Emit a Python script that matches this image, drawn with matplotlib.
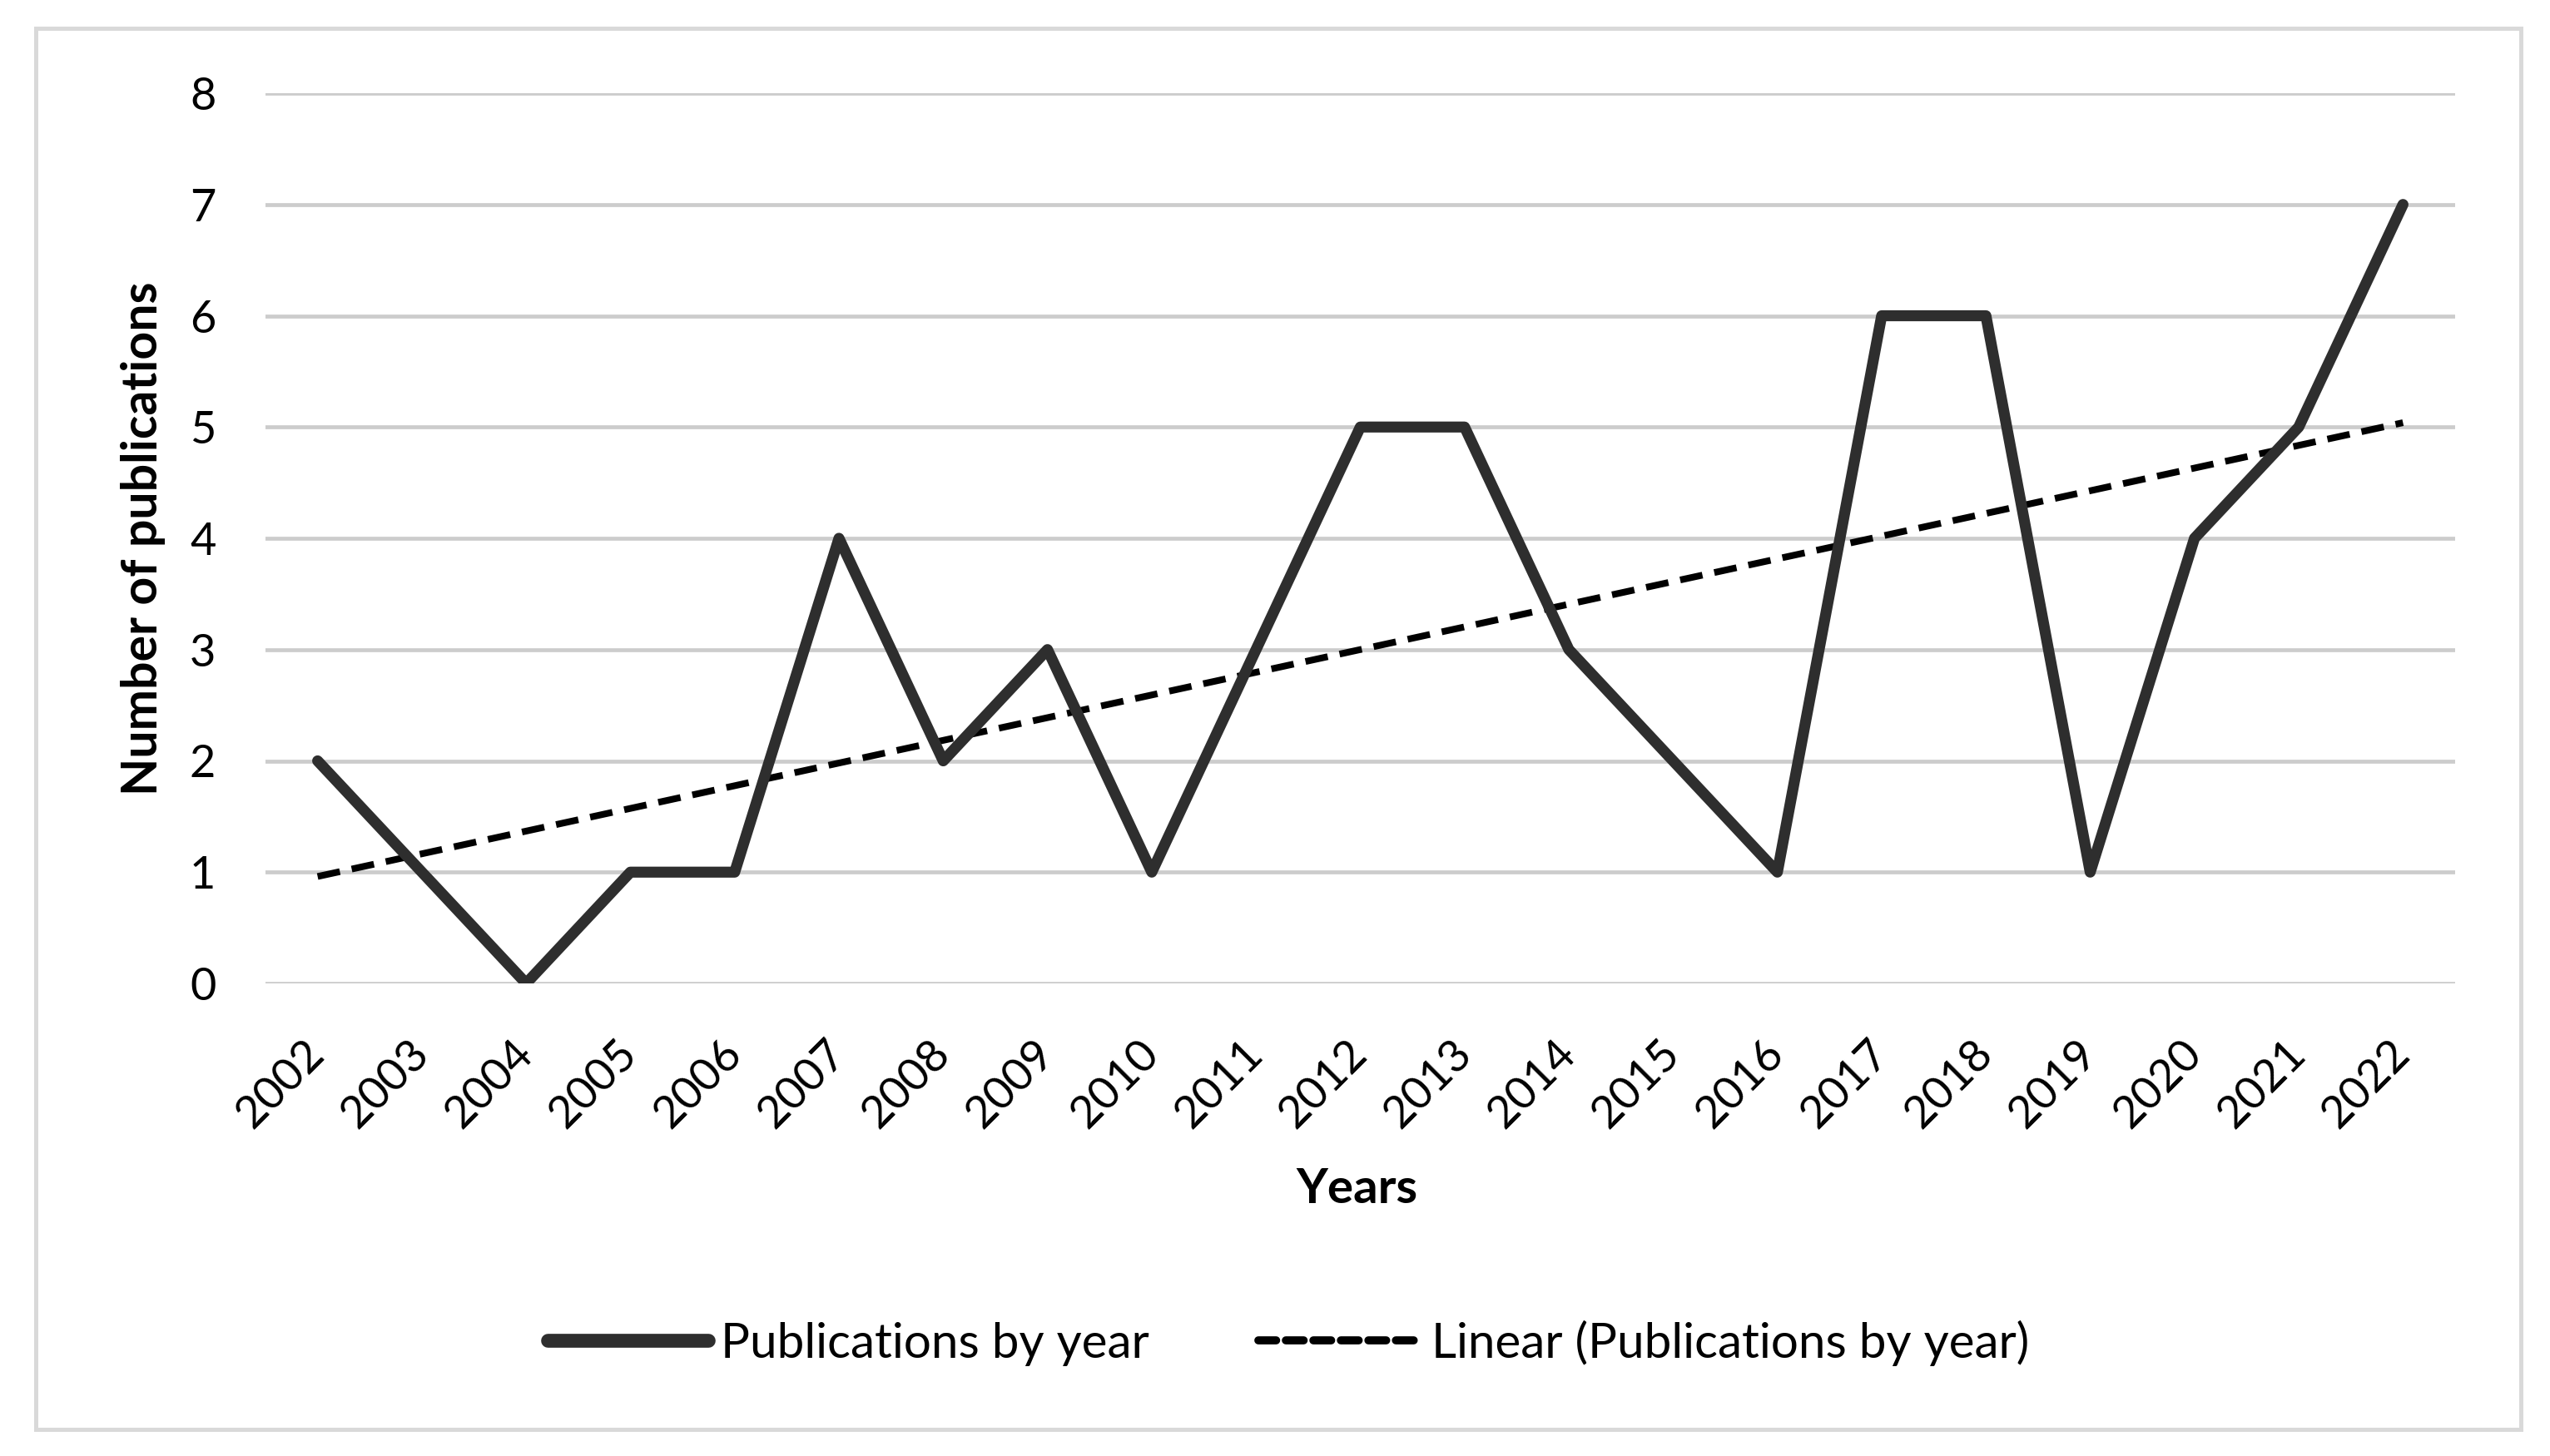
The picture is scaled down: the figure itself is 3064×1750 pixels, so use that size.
import numpy as np
import matplotlib
matplotlib.use("Agg")
import matplotlib.pyplot as plt
from matplotlib.lines import Line2D
from matplotlib.patches import Rectangle

# ---- data ----
years = ["2002", "2003", "2004", "2005", "2006", "2007", "2008", "2009", "2010", "2011",
         "2012", "2013", "2014", "2015", "2016", "2017", "2018", "2019", "2020", "2021", "2022"]
publications = [2, 1, 0, 1, 1, 4, 2, 3, 1, 3, 5, 5, 3, 2, 1, 6, 6, 1, 4, 5, 7]
y_ticks = [0, 1, 2, 3, 4, 5, 6, 7, 8]
series_label = "Publications by year"
trend_label = "Linear (Publications by year)"
x_title = "Years"
y_title = "Number of publications"

plt.rcParams['font.family'] = ['Lato', 'DejaVu Sans']

W, H = 3064, 1750
fig = plt.figure(figsize=(W / 100, H / 100), dpi=100)
fig.patch.set_facecolor("white")

# outer chart border
fig.patches.append(Rectangle((43 / W, 1 - 1718 / H), (3029 - 43) / W, (1718 - 34) / H,
                             transform=fig.transFigure, fill=False,
                             edgecolor="#d9d9d9", linewidth=3.6, zorder=0))

ax = fig.add_axes([319 / W, 1 - 1182 / H, (2950 - 319) / W, (1182 - 112) / H])

x = np.arange(len(years))
y = np.array(publications, dtype=float)

# linear trend line (least-squares, like Excel's trendline)
coef = np.polyfit(x, y, 1)
trend = np.polyval(coef, x)

line_color = "#2e2e2e"
ax.plot(x, y, color=line_color, linewidth=9.5, solid_joinstyle="round",
        solid_capstyle="round", zorder=3)
ax.plot(x, trend, color="black", linewidth=5.8, linestyle=(0, (3.4, 1.8)),
        dash_capstyle="butt", zorder=2)

ax.set_xlim(-0.5, len(years) - 0.5)
ax.set_ylim(min(y_ticks), max(y_ticks))
ax.set_yticks(y_ticks)
ax.set_xticks(x)
ax.set_xticklabels(years, rotation=45, ha="right", va="center", rotation_mode="anchor")
ax.tick_params(axis="both", length=0, labelsize=39, colors="black")
ax.tick_params(axis="x", pad=55)
ax.tick_params(axis="y", pad=43)

ax.grid(axis="y", color="#cccccc", linewidth=3.4, zorder=0)
ax.set_axisbelow(True)
for s in ax.spines.values():
    s.set_visible(False)

ax.set_xlabel(x_title, fontsize=42, fontweight="bold")
ax.xaxis.label.set_va("center")
ax.xaxis.set_label_coords((1630 - 319) / (2950 - 319), (1182 - 1430) / (1182 - 112))
ax.set_ylabel(y_title, fontsize=42.5, fontweight="bold")
ax.yaxis.label.set_va("center")
ax.yaxis.set_label_coords((172 - 319) / (2950 - 319), 0.5)

handles = [
    Line2D([], [], color=line_color, linewidth=12, solid_capstyle="round"),
    Line2D([], [], color="black", linewidth=7, linestyle=(0, (2.2, 1.2)), dash_capstyle="round"),
]
fig.legend(handles, [series_label, trend_label], loc="center",
           bbox_to_anchor=(1548 / W, 1 - 1614 / H), ncol=2, frameon=False,
           fontsize=42, handlelength=3.3, handletextpad=0.26, columnspacing=2.25)

fig.savefig("out.png", dpi=100, facecolor="white")
